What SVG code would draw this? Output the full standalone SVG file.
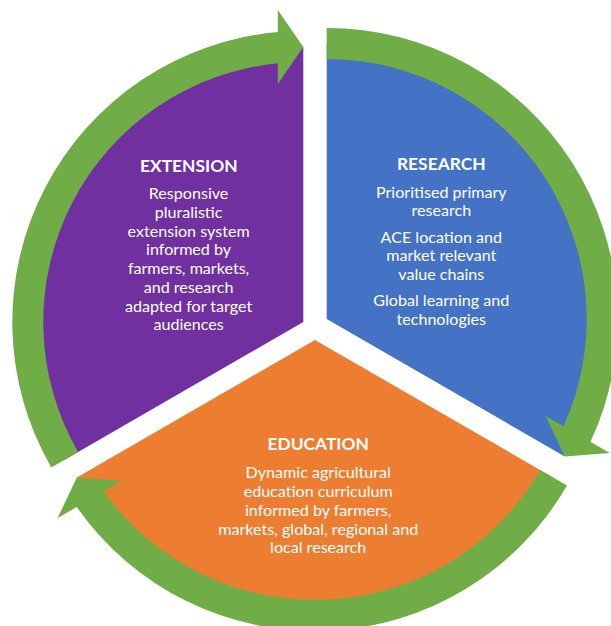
<svg xmlns="http://www.w3.org/2000/svg" width="611" height="626" viewBox="0 0 611 626">
  <style>
    .title { font-family: Lato, "Open Sans", "Liberation Sans", sans-serif; font-weight: bold; font-size: 17.4px; fill: #ffffff; text-anchor: middle; }
    .body { font-family: Lato, "Open Sans", "Liberation Sans", sans-serif; font-size: 16.1px; fill: #ffffff; text-anchor: middle; }
    .arrow { fill: #70AD47; }
  </style>
  <rect width="611" height="626" fill="#ffffff"/>
  <g id="node-extension">
    <path d="M 303.3 322 L 65.15 459.5 A 275 275 0 0 1 303.3 47 Z" fill="#7030A0"/>
  </g>
  <g id="node-research">
    <path d="M 326.7 319 L 326.7 44 A 275 275 0 0 1 564.85 456.5 Z" fill="#4472C4"/>
  </g>
  <g id="node-education">
    <path d="M 315 340 L 553.15 477.5 A 275 275 0 0 1 76.85 477.5 Z" fill="#ED7D31"/>
  </g>
  <g id="connectors">
    <path class="arrow" d="M 51.3 467.5 A 291 291 0 0 1 277.8 32.12 L 277.8 10 L 303.3 47 L 277.8 84 L 277.8 63.25 A 260 260 0 0 0 78.1 452 Z"/>
    <path class="arrow" d="M 326.7 28 A 291 291 0 0 1 590.49 441.86 L 609.65 452.92 L 564.85 456.5 L 545.56 415.92 L 563.53 426.29 A 260 260 0 0 0 326.7 59 Z"/>
    <path class="arrow" d="M 567.0 485.5 A 291 291 0 0 1 76.71 507.02 L 57.55 518.08 L 76.85 477.5 L 121.64 481.08 L 103.67 491.46 A 260 260 0 0 0 540.16 470 Z"/>
  </g>
  <g id="label-extension">
    <text class="title" x="188.8" y="171.7">EXTENSION</text>
    <text class="body" x="188.6" y="199">Responsive</text>
    <text class="body" x="188.6" y="217.8">pluralistic</text>
    <text class="body" x="188.6" y="236.5">extension system</text>
    <text class="body" x="188.6" y="255.3">informed by</text>
    <text class="body" x="188.6" y="274">farmers, markets,</text>
    <text class="body" x="188.6" y="292.8">and research</text>
    <text class="body" x="188.6" y="311.6">adapted for target</text>
    <text class="body" x="188.6" y="330.3">audiences</text>
  </g>
  <g id="label-research">
    <text class="title" x="441.3" y="170">RESEARCH</text>
    <text class="body" x="441.3" y="197.5">Prioritised primary</text>
    <text class="body" x="441.3" y="216.2">research</text>
    <text class="body" x="441.3" y="242.5">ACE location and</text>
    <text class="body" x="441.3" y="261.2">market relevant</text>
    <text class="body" x="441.3" y="280">value chains</text>
    <text class="body" x="441.3" y="306.2">Global learning and</text>
    <text class="body" x="441.3" y="325">technologies</text>
  </g>
  <g id="label-education">
    <text class="title" x="318.2" y="450.3">EDUCATION</text>
    <text class="body" x="318.2" y="478.3">Dynamic agricultural</text>
    <text class="body" x="318.2" y="497.1">education curriculum</text>
    <text class="body" x="318.2" y="515.8">informed by farmers,</text>
    <text class="body" x="318.2" y="534.6">markets, global, regional and</text>
    <text class="body" x="318.2" y="553.3">local research</text>
  </g>
</svg>
